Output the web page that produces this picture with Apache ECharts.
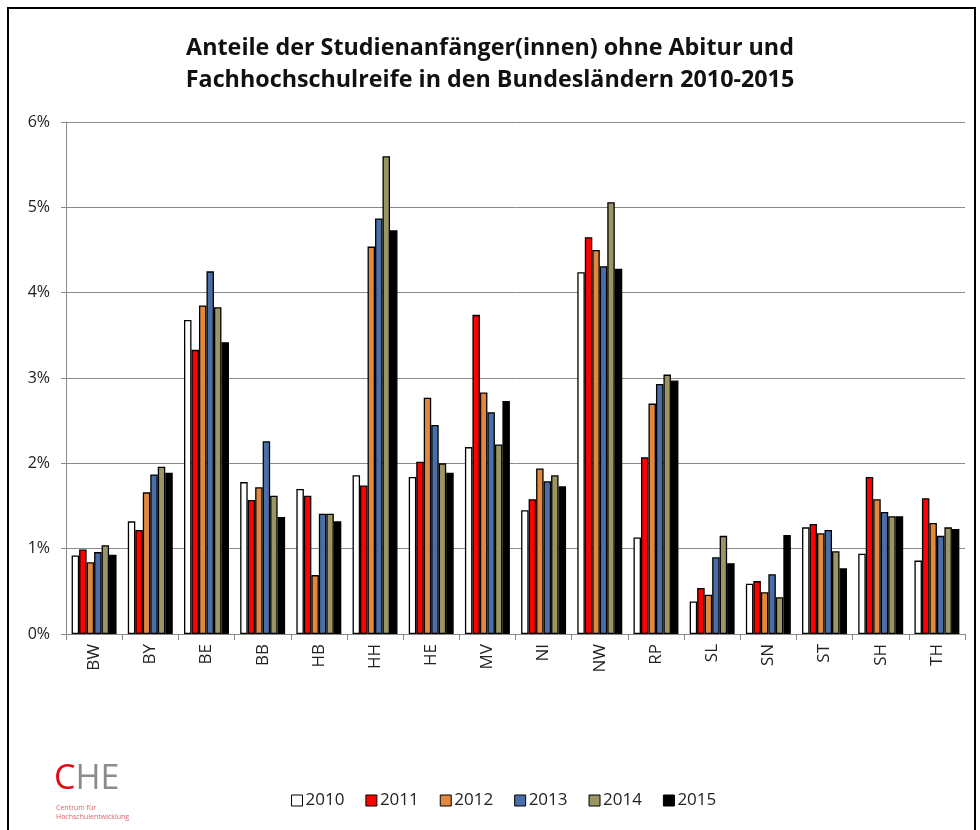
<!DOCTYPE html>
<html>
<head>
<meta charset="utf-8">
<script src="https://cdn.jsdelivr.net/npm/echarts@6/dist/echarts.min.js"></script>
<style>
  html, body { margin: 0; padding: 0; background: #fff; }
  #chart { width: 980px; height: 830px; }
</style>
</head>
<body>
<div id="chart"></div>
<script>
// Bundesländer
const laender = ["BW", "BY", "BE", "BB", "HB", "HH", "HE", "MV", "NI", "NW", "RP", "SL", "SN", "ST", "SH", "TH"];
const jahre = ["2010", "2011", "2012", "2013", "2014", "2015"];

// Anteile in %
const y2010 = [0.92, 1.32, 3.68, 1.78, 1.70, 1.86, 1.84, 2.19, 1.45, 4.24, 1.13, 0.38, 0.59, 1.25, 0.94, 0.86];
const y2011 = [0.99, 1.22, 3.33, 1.57, 1.62, 1.74, 2.02, 3.74, 1.58, 4.65, 2.07, 0.54, 0.62, 1.29, 1.84, 1.59];
const y2012 = [0.84, 1.66, 3.85, 1.72, 0.69, 4.54, 2.77, 2.83, 1.94, 4.50, 2.70, 0.46, 0.49, 1.18, 1.58, 1.30];
const y2013 = [0.96, 1.87, 4.25, 2.26, 1.41, 4.87, 2.45, 2.60, 1.79, 4.31, 2.93, 0.90, 0.70, 1.22, 1.43, 1.15];
const y2014 = [1.04, 1.96, 3.83, 1.62, 1.41, 5.60, 2.00, 2.22, 1.86, 5.06, 3.04, 1.15, 0.43, 0.97, 1.38, 1.25];
const y2015 = [0.93, 1.89, 3.42, 1.37, 1.32, 4.73, 1.89, 2.73, 1.73, 4.28, 2.97, 0.83, 1.16, 0.77, 1.38, 1.23];

const yTicks = [0, 1, 2, 3, 4, 5, 6];

const werte = [y2010, y2011, y2012, y2013, y2014, y2015];
const farben = ["#FFFFFF", "#FF0000", "#E2873E", "#4A6EA8", "#9B9563", "#000000"];

const myChart = echarts.init(document.getElementById("chart"));

const option = {
  animation: false,
  backgroundColor: "#fff",
  textStyle: { fontFamily: "Open Sans" },
  title: {
    text: "Anteile der Studienanfänger(innen) ohne Abitur und\nFachhochschulreife in den Bundesländern 2010-2015",
    left: "center",
    top: 27,
    textStyle: {
      fontFamily: "Open Sans",
      fontWeight: "bold",
      fontSize: 23.3,
      lineHeight: 32,
      color: "#111",
    },
  },
  grid: {
    left: 66,
    right: 15,
    top: 122,
    bottom: 196,
  },
  legend: {
    bottom: 16,
    left: 286,
    icon: "rect",
    itemWidth: 11,
    itemHeight: 11,
    itemGap: 21,
    data: jahre,
    itemStyle: { borderColor: "#000", borderWidth: 1 },
    textStyle: { fontSize: 17, color: "#222", padding: [0, 0, 0, -2] },
  },
  xAxis: {
    type: "category",
    data: laender,
    axisLine: { lineStyle: { color: "#8a8a8a", width: 1 } },
    axisTick: { show: true, length: 6, lineStyle: { color: "#8a8a8a" } },
    axisLabel: { rotate: 90, fontSize: 17, color: "#222", margin: 10 },
  },
  yAxis: {
    type: "value",
    min: 0,
    max: 6,
    interval: 1,
    axisLine: { show: true, lineStyle: { color: "#8a8a8a", width: 1 } },
    axisTick: { show: true, length: 5, lineStyle: { color: "#8a8a8a" } },
    axisLabel: {
      formatter: (v) => (yTicks.includes(v) ? v + "%" : ""),
      fontSize: 16,
      color: "#222",
      margin: 16,
    },
    splitLine: { lineStyle: { color: "#8a8a8a", width: 1 } },
  },
  series: jahre.map((j, i) => ({
    name: j,
    type: "bar",
    data: werte[i],
    barGap: "0%",
    barCategoryGap: "20%",
    itemStyle: { color: farben[i], borderColor: "#000", borderWidth: 1.3 },
  })),
  graphic: [
    {
      type: "rect",
      silent: true,
      shape: { x: 8, y: 8, width: 967, height: 900 },
      style: { fill: "none", stroke: "#000", lineWidth: 2 },
    },
    {
      type: "text",
      left: 54,
      top: 762,
      style: {
        text: "{c|C}{h|HE}",
        rich: {
          c: { fontSize: 34, fontFamily: "Open Sans", fill: "#E30613" },
          h: { fontSize: 34, fontFamily: "Open Sans", fill: "#8C8C8C" },
        },
      },
    },
    {
      type: "text",
      left: 56,
      top: 803,
      style: {
        text: "Centrum für\nHochschulentwicklung",
        fontSize: 7,
        lineHeight: 9,
        fontFamily: "Open Sans",
        fill: "#E0606A",
      },
    },
  ],
};

myChart.setOption(option);
</script>
</body>
</html>
